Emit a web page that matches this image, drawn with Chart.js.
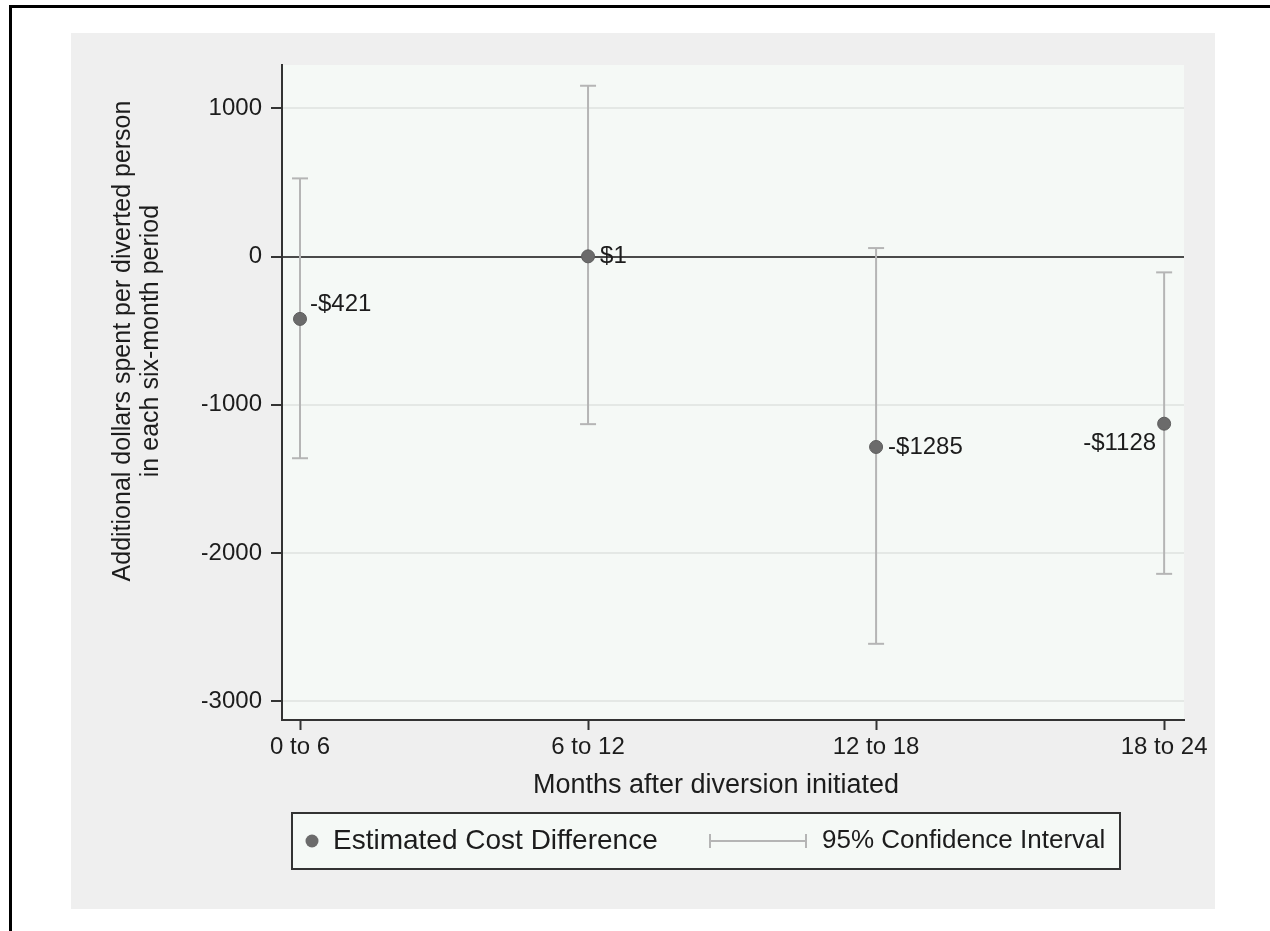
<!DOCTYPE html>
<html>
<head>
<meta charset="utf-8">
<title>Additional dollars spent per diverted person</title>
<script src="https://cdn.jsdelivr.net/npm/chart.js@4.4.0/dist/chart.umd.min.js"></script>
<style>
  html, body { margin: 0; padding: 0; background: #fff; }
  canvas { display: block; }
</style>
</head>
<body>
<canvas id="cost-chart" width="1270" height="931"></canvas>
<script>
// Data
const periods = ['0 to 6', '6 to 12', '12 to 18', '18 to 24'];
const estimates = [-421, 1, -1285, -1128];
const ciLower = [-1361, -1131, -2613, -2141];
const ciUpper = [527, 1152, 57, -107];
const yTicks = [-3000, -2000, -1000, 0, 1000];

// where each value label sits around its marker (clock position)
const labelClock = [2, 3, 3, 8];

const FONT = '"Liberation Sans", Arial, Helvetica, sans-serif';
const TEXT = '#1c1c1c';
const AXIS = '#333333';
const MARKER = '#6b6b6b';
const CI_GREY = '#b5b5b5';

function money(v) {
    return (v < 0 ? '-$' : '$') + Math.abs(v);
}

// CI segments, broken by a null point between periods
const ciPoints = [];
periods.forEach((p, i) => {
    ciPoints.push({ x: i, y: ciLower[i] }, { x: i, y: ciUpper[i] }, { x: i, y: null });
});

const decorations = {
    id: 'decorations',
    beforeDraw(chart) {
        const c = chart.ctx;
        const a = chart.chartArea;
        c.save();
        c.fillStyle = '#ffffff';
        c.fillRect(0, 0, chart.width, chart.height);
        // outer frame
        c.fillStyle = '#000000';
        c.fillRect(9, 5, chart.width - 9, 3);
        c.fillRect(9, 5, 3, chart.height - 5);
        // graph region and plot region
        c.fillStyle = '#efefef';
        c.fillRect(71, 33, 1144, 876);
        c.fillStyle = '#f5f9f6';
        c.fillRect(a.left, a.top, a.right - a.left, a.bottom - a.top);
        c.restore();
    },
    afterDatasetsDraw(chart) {
        const c = chart.ctx;
        const meta = chart.getDatasetMeta(0);
        c.save();
        c.font = '24px ' + FONT;
        c.fillStyle = TEXT;
        c.textBaseline = 'middle';
        meta.data.forEach((pt, i) => {
            const text = money(estimates[i]);
            const pos = labelClock[i];
            if (pos === 2) {
                c.textAlign = 'left';
                c.fillText(text, pt.x + 10, pt.y - 15);
            } else if (pos === 8) {
                c.textAlign = 'right';
                c.fillText(text, pt.x - 8, pt.y + 20);
            } else {
                c.textAlign = 'left';
                c.fillText(text, pt.x + 12, pt.y);
            }
        });
        c.restore();
    },
    afterDraw(chart) {
        const c = chart.ctx;
        c.save();
        c.fillStyle = TEXT;
        c.textAlign = 'center';
        c.textBaseline = 'middle';

        // y axis title, two lines
        c.font = '25px ' + FONT;
        [['Additional dollars spent per diverted person', 123], ['in each six-month period', 151]].forEach(([line, x]) => {
            c.save();
            c.translate(x, 341);
            c.rotate(-Math.PI / 2);
            c.fillText(line, 0, 0);
            c.restore();
        });

        // x axis title
        c.font = '27px ' + FONT;
        c.fillText('Months after diversion initiated', 716, 786);

        // legend box
        const ds = chart.data.datasets;
        c.fillStyle = '#f5f9f6';
        c.fillRect(292, 813, 828, 56);
        c.strokeStyle = AXIS;
        c.lineWidth = 2;
        c.strokeRect(292, 813, 828, 56);

        const ly = 841;
        c.fillStyle = MARKER;
        c.beginPath();
        c.arc(312, ly, 6.5, 0, Math.PI * 2);
        c.fill();

        c.strokeStyle = CI_GREY;
        c.lineWidth = 2;
        c.beginPath();
        c.moveTo(710, ly); c.lineTo(806, ly);
        c.moveTo(710, ly - 7); c.lineTo(710, ly + 7);
        c.moveTo(806, ly - 7); c.lineTo(806, ly + 7);
        c.stroke();

        c.fillStyle = TEXT;
        c.textAlign = 'left';
        c.font = '28px ' + FONT;
        c.fillText(ds[0].label, 333, ly);
        c.font = '26px ' + FONT;
        c.fillText(ds[1].label, 822, ly);
        c.restore();
    }
};

new Chart(document.getElementById('cost-chart'), {
    type: 'scatter',
    data: {
        datasets: [
            {
                label: 'Estimated Cost Difference',
                data: estimates.map((v, i) => ({ x: i, y: v })),
                pointStyle: 'circle',
                pointRadius: 6.5,
                backgroundColor: MARKER,
                borderColor: '#5e5e5e',
                borderWidth: 1,
                order: 0
            },
            {
                label: '95% Confidence Interval',
                data: ciPoints,
                showLine: true,
                spanGaps: false,
                borderColor: CI_GREY,
                borderWidth: 2,
                pointStyle: 'line',
                pointRadius: 8,
                pointBorderColor: CI_GREY,
                pointBorderWidth: 2,
                order: 1
            }
        ]
    },
    options: {
        responsive: false,
        animation: false,
        events: [],
        layout: { padding: { left: 202, top: 65, right: 86, bottom: 151 } },
        plugins: {
            legend: { display: false },
            tooltip: { enabled: false }
        },
        scales: {
            x: {
                type: 'linear',
                min: -0.0625,
                max: 3.069,
                afterBuildTicks: s => { s.ticks = periods.map((p, i) => ({ value: i })); },
                afterFit: s => { s.height = 60; },
                ticks: {
                    callback: v => periods[v],
                    font: { family: FONT, size: 24 },
                    color: TEXT,
                    padding: 3,
                    maxRotation: 0,
                    autoSkip: false
                },
                grid: {
                    drawOnChartArea: false,
                    tickLength: 10,
                    tickColor: AXIS,
                    tickWidth: 2
                },
                border: { display: true, color: AXIS, width: 2 }
            },
            y: {
                type: 'linear',
                min: -3127,
                max: 1292,
                afterBuildTicks: s => { s.ticks = yTicks.map(v => ({ value: v })); },
                afterFit: s => { s.width = 80; },
                ticks: {
                    callback: v => String(v),
                    font: { family: FONT, size: 24 },
                    color: TEXT,
                    padding: 9
                },
                grid: {
                    color: c => (c.tick && c.tick.value === 0 ? '#4a4a4a' : '#e4e8e5'),
                    lineWidth: 2,
                    tickLength: 11,
                    tickColor: AXIS,
                    tickWidth: 2
                },
                border: { display: true, color: AXIS, width: 2 }
            }
        }
    },
    plugins: [decorations]
});
</script>
</body>
</html>
